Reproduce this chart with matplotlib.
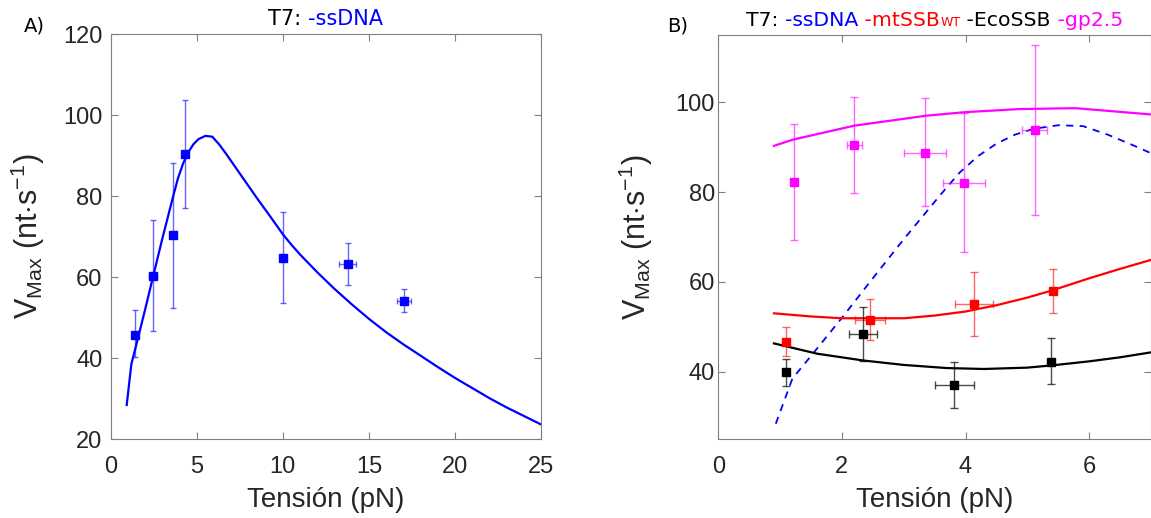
import numpy as np
import matplotlib
matplotlib.use('Agg')
import matplotlib.pyplot as plt
from matplotlib.offsetbox import TextArea, HPacker, AnchoredOffsetbox

plt.rcParams['font.family'] = ['Liberation Sans', 'DejaVu Sans']
plt.rcParams['mathtext.fontset'] = 'custom'
plt.rcParams['mathtext.rm'] = 'Liberation Sans'
plt.rcParams['mathtext.it'] = 'Liberation Sans:italic'

# ---- data ----
# T7 on bare ssDNA: fit curve (shared by both panels)
ssdna_force = [0.93, 1.2, 1.5, 2.0, 2.5, 3.0, 3.6, 3.9, 4.2, 4.5, 4.8, 5.1, 5.5, 5.9, 6.3, 6.7,
               7.5, 8.5, 9.3, 10.0, 10.5, 11.0, 12.0, 13.0, 14.0, 15.0, 16.0, 17.0,
               18.0, 19.0, 20.0, 21.0, 22.0, 23.0, 24.0, 25.0]
ssdna_fit = [28.4, 38.5, 43.5, 52.0, 60.8, 69.5, 79.5, 84.3, 88.0, 90.8, 92.8, 94.1, 94.9, 94.7,
             92.8, 90.5, 85.6, 79.5, 74.8, 70.6, 68.0, 65.6, 61.2, 57.1, 53.3, 49.7, 46.4, 43.4,
             40.6, 37.8, 35.1, 32.6, 30.1, 27.8, 25.7, 23.6]

# T7 on bare ssDNA: measured points
ssdna_x = [1.42, 2.47, 3.63, 4.34, 10.0, 13.76, 17.04]
ssdna_v = [45.8, 60.3, 70.4, 90.5, 64.8, 63.2, 54.2]
ssdna_lo = [40.2, 46.6, 52.4, 77.2, 53.6, 58.0, 51.5]
ssdna_hi = [51.8, 74.1, 88.3, 103.8, 76.0, 68.5, 57.1]
ssdna_xerr = [0.0, 0.23, 0.0, 0.0, 0.0, 0.5, 0.42]

# mtSSB wt
mt_fit_x = [0.9, 1.5, 2.0, 2.5, 3.0, 3.5, 4.0, 4.5, 5.0, 5.4, 6.0, 6.5, 7.0]
mt_fit_v = [53.0, 52.3, 51.9, 51.9, 51.9, 52.5, 53.4, 54.8, 56.5, 58.1, 60.8, 62.9, 64.9]
mt_x = [1.09, 2.45, 4.14, 5.41]
mt_v = [46.6, 51.6, 55.0, 58.0]
mt_lo = [43.5, 47.0, 47.9, 53.1]
mt_hi = [49.9, 56.1, 62.1, 62.9]
mt_xerr = [0.0, 0.24, 0.31, 0.0]

# EcoSSB
eco_fit_x = [0.9, 1.6, 2.34, 3.0, 3.7, 4.3, 5.0, 5.4, 6.0, 6.5, 7.0]
eco_fit_v = [46.3, 44.0, 42.5, 41.5, 40.8, 40.6, 40.9, 41.4, 42.3, 43.2, 44.3]
eco_x = [1.09, 2.34, 3.82, 5.38]
eco_v = [39.9, 48.4, 37.0, 42.2]
eco_lo = [36.9, 42.4, 31.9, 37.2]
eco_hi = [42.9, 54.3, 42.2, 47.4]
eco_xerr = [0.0, 0.23, 0.31, 0.0]

# gp2.5
gp_fit_x = [0.9, 1.21, 2.2, 3.35, 3.98, 4.87, 5.78, 7.0]
gp_fit_v = [90.3, 91.7, 94.8, 97.0, 97.8, 98.5, 98.7, 97.3]
gp_x = [1.22, 2.2, 3.35, 3.98, 5.12]
gp_v = [82.3, 90.4, 88.8, 82.1, 93.8]
gp_lo = [69.4, 79.7, 76.8, 66.7, 74.9]
gp_hi = [95.2, 101.1, 100.9, 97.6, 112.7]
gp_xerr = [0.0, 0.12, 0.34, 0.34, 0.2]

TICK_SIZE = 17
LABEL_SIZE = 20
YLABEL_SIZE = 22
TITLE_SIZE = 15
SPINE_GREY = '#808080'


def style_axes(ax, ypad):
    # MATLAB look: box on, ticks inside on all four sides
    ax.tick_params(direction='in', top=True, right=True, length=5, width=0.8,
                   color=SPINE_GREY, labelcolor='#262626', labelsize=TICK_SIZE)
    ax.tick_params(axis='x', pad=12)
    ax.tick_params(axis='y', pad=ypad)
    for s in ax.spines.values():
        s.set_color(SPINE_GREY)
        s.set_linewidth(0.8)


def points(ax, x, v, lo, hi, xerr, color, ecolor, cap):
    # squares with asymmetric vertical and symmetric horizontal error bars
    v = np.array(v)
    yerr = [v - np.array(lo), np.array(hi) - v]
    ax.errorbar(x, v, yerr=yerr, xerr=xerr, fmt='s', ms=6, color=color,
                ecolor=ecolor, elinewidth=1.0, capsize=cap, capthick=1.0, zorder=3)


def colour_title(ax, parts):
    # parts: list of (text, colour, fontsize)
    boxes = [TextArea(t, textprops=dict(color=c, fontsize=fs, family='DejaVu Sans'))
             for t, c, fs in parts]
    pack = HPacker(children=boxes, align='baseline', pad=0, sep=0)
    box = AnchoredOffsetbox(loc='lower center', child=pack, pad=0, borderpad=0,
                            frameon=False, bbox_to_anchor=(0.5, 1.012),
                            bbox_transform=ax.transAxes)
    ax.add_artist(box)


fig = plt.figure(figsize=(11.51, 5.18), dpi=100)
W, H = 1151.0, 518.0

# ---- panel A ----
ax1 = fig.add_axes([110.7 / W, 1 - 439 / H, (541 - 110.7) / W, (439 - 34.3) / H])
ax1.plot(ssdna_force, ssdna_fit, color='#0000FF', lw=1.6, zorder=2)
points(ax1, ssdna_x, ssdna_v, ssdna_lo, ssdna_hi, ssdna_xerr, '#0000FF', (0, 0, 1, 0.6), 2.5)
ax1.set_xlim(0, 25)
ax1.set_ylim(20, 120)
ax1.set_xticks([0, 5, 10, 15, 20, 25])
ax1.set_yticks([20, 40, 60, 80, 100, 120])
style_axes(ax1, 6)
colour_title(ax1, [('T7: ', 'black', TITLE_SIZE), ('-ssDNA', '#0000FF', TITLE_SIZE)])

# ---- panel B ----
ax2 = fig.add_axes([718.3 / W, 1 - 439 / H, (1151 - 718.3) / W, (439 - 35) / H])
ax2.plot(ssdna_force, ssdna_fit, color='#0000FF', lw=1.3, dashes=(4, 3.5), zorder=2)
ax2.plot(gp_fit_x, gp_fit_v, color='#FF00FF', lw=1.6, zorder=2)
ax2.plot(mt_fit_x, mt_fit_v, color='#FF0000', lw=1.6, zorder=2)
ax2.plot(eco_fit_x, eco_fit_v, color='black', lw=1.6, zorder=2)
points(ax2, gp_x, gp_v, gp_lo, gp_hi, gp_xerr, '#FF00FF', (1, 0, 1, 0.6), 3)
points(ax2, mt_x, mt_v, mt_lo, mt_hi, mt_xerr, '#FF0000', (1, 0, 0, 0.6), 3)
points(ax2, eco_x, eco_v, eco_lo, eco_hi, eco_xerr, 'black', (0, 0, 0, 0.7), 3)
ax2.set_xlim(0, 7)
ax2.set_ylim(25, 115)
ax2.set_xticks([0, 2, 4, 6])
ax2.set_yticks([40, 60, 80, 100])
style_axes(ax2, 2.4)
colour_title(ax2, [('T7: ', 'black', 14.7), ('-ssDNA', '#0000FF', 14.7),
                   (' -mtSSB', '#FF0000', 14.7), ('WT', '#FF0000', 9),
                   (' -EcoSSB', 'black', 14.7), (' -gp2.5', '#FF00FF', 14.7)])

# axis labels and panel letters
ylab = r'V$_{\rm Max}$ (nt$\cdot$s$^{-1}$)'
for ax, ylx, letter, lx in [(ax1, 9, 'A)', 24), (ax2, 617, 'B)', 667)]:
    pos = ax.get_position()
    fig.text(ylx / W, (pos.y0 + pos.y1) / 2, ylab, rotation=90, ha='left', va='center',
             fontsize=YLABEL_SIZE, color='#262626')
    fig.text((pos.x0 + pos.x1) / 2, 1 - 507 / H, 'Tensión (pN)', ha='center',
             va='baseline', fontsize=LABEL_SIZE, color='#262626')
    fig.text(lx / W, 1 - 31 / H, letter, ha='left', va='baseline', fontsize=14,
             family='DejaVu Sans', color='black')

fig.savefig('out.png', dpi=100)
